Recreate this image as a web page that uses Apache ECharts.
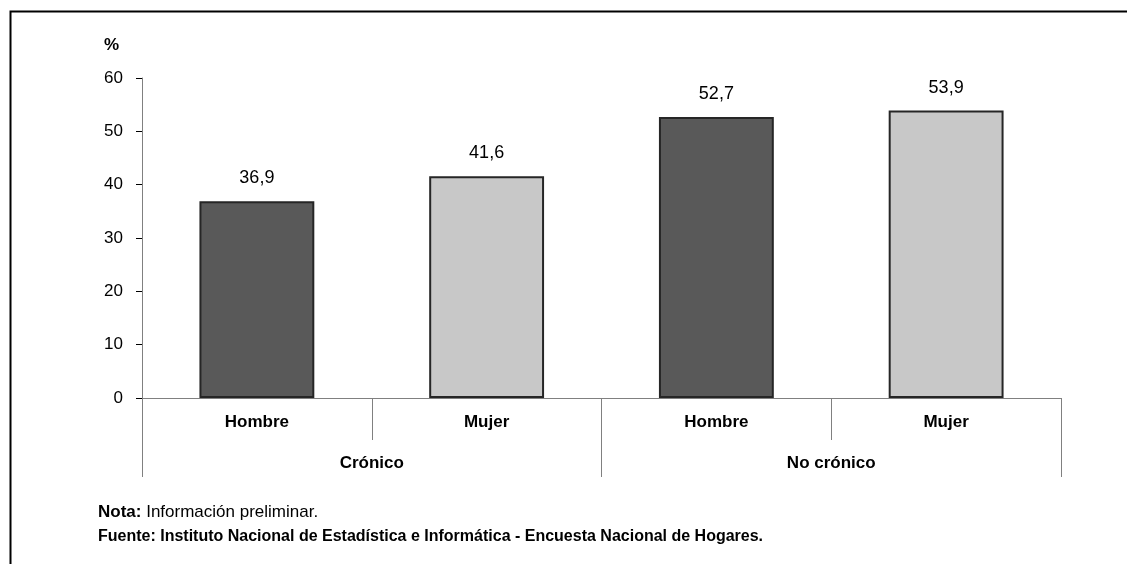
<!DOCTYPE html>
<html>
<head>
<meta charset="utf-8">
<script src="https://cdn.jsdelivr.net/npm/echarts@6/dist/echarts.min.js"></script>
<style>
html,body{margin:0;padding:0;background:#fff;}
#chart{width:1127px;height:564px;}
</style>
</head>
<body>
<div id="chart"></div>
<script>
const categories = ['Hombre', 'Mujer', 'Hombre', 'Mujer'];
const groups = ['Crónico', 'No crónico'];
const values = [36.9, 41.6, 52.7, 53.9];
const yTicks = [0, 10, 20, 30, 40, 50, 60];

const FONT = '"Liberation Sans Narrow", "Arial Narrow", "Liberation Sans", Arial, sans-serif';
const fill = ['#595959', '#c8c8c8', '#595959', '#c8c8c8'];
const chart = echarts.init(document.getElementById('chart'));

chart.setOption({
  animation: false,
  backgroundColor: '#fff',
  textStyle: { fontFamily: FONT },
  grid: { left: 142, right: 66, top: 78, bottom: 166 },
  xAxis: [
    {
      type: 'category',
      data: categories,
      position: 'bottom',
      axisLine: { show: true, onZero: false, lineStyle: { color: '#808080', width: 1 } },
      axisTick: { show: true, interval: 0, length: 42, lineStyle: { color: '#808080' } },
      axisLabel: { interval: 0, margin: 16, fontSize: 17, fontWeight: 'bold', color: '#000', fontFamily: FONT }
    },
    {
      type: 'category',
      data: groups,
      position: 'bottom',
      axisLine: { show: false },
      axisTick: { show: true, interval: 0, length: 79, lineStyle: { color: '#808080' } },
      axisLabel: { interval: 0, margin: 57, fontSize: 17, fontWeight: 'bold', color: '#000', fontFamily: FONT }
    }
  ],
  yAxis: {
    type: 'value',
    min: yTicks[0],
    max: yTicks[yTicks.length - 1],
    interval: 10,
    axisLine: { show: true, lineStyle: { color: '#808080' } },
    axisTick: { show: true, length: 6, lineStyle: { color: '#000' } },
    splitLine: { show: false },
    axisLabel: { margin: 19, fontSize: 17, color: '#000', fontFamily: FONT }
  },
  series: [{
    type: 'bar',
    xAxisIndex: 0,
    barWidth: '50%',
    data: values.map((v, i) => ({
      value: v,
      itemStyle: { color: fill[i], borderColor: '#262626', borderWidth: 2 }
    })),
    label: {
      show: true,
      position: 'top',
      distance: 14,
      fontSize: 18,
      color: '#000',
      fontFamily: FONT,
      formatter: p => p.value.toFixed(1).replace('.', ',')
    }
  }],
  graphic: [
    {
      type: 'rect',
      shape: { x: 10.5, y: 11.5, width: 1140, height: 600 },
      style: { fill: 'none', stroke: '#000', lineWidth: 2 },
      z: 100
    },
    {
      type: 'text', x: 104, y: 45,
      style: { text: '%', fontSize: 17, fontWeight: 'bold', fontFamily: FONT, fill: '#000', verticalAlign: 'middle' }
    },
    {
      type: 'text', x: 98, y: 512,
      style: {
        text: '{b|Nota:} Información preliminar.',
        fontSize: 17, fontFamily: FONT, fill: '#000', verticalAlign: 'middle',
        rich: { b: { fontWeight: 'bold', fontSize: 17, fontFamily: FONT } }
      }
    },
    {
      type: 'text', x: 98, y: 537,
      style: {
        text: 'Fuente: Instituto Nacional de Estadística e Informática - Encuesta Nacional de Hogares.',
        fontSize: 16, fontWeight: 'bold', fontFamily: FONT, fill: '#000', verticalAlign: 'middle'
      }
    }
  ]
});
</script>
</body>
</html>
